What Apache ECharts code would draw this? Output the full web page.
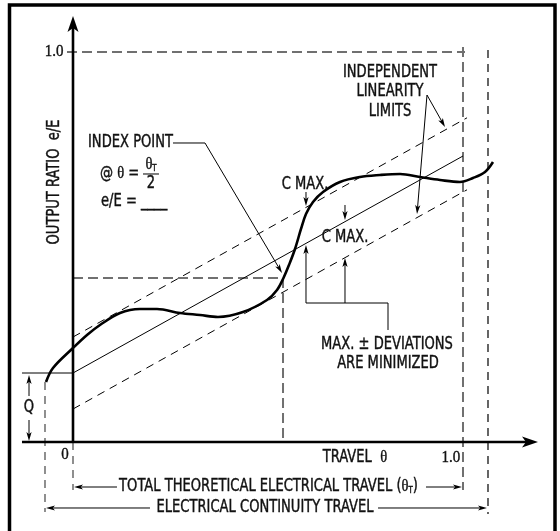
<!DOCTYPE html>
<html><head><meta charset="utf-8">
<script src="https://cdn.jsdelivr.net/npm/echarts@6/dist/echarts.min.js"></script>
<style>html,body{margin:0;padding:0;background:#fff}#c{width:560px;height:531px}</style>
</head><body><div id="c"></div>
<script>
// ---- data (θ = travel, v = output ratio e/E) ----
const curveTheta = [-0.0692,-0.0513,0,0.0359,0.0692,0.1205,0.1718,0.2154,0.2744,0.3256,0.3718,0.4359,0.4974,0.5231,0.5397,0.5538,0.5692,0.5846,0.5974,0.6154,0.6410,0.6846,0.7359,0.7872,0.8385,0.8897,0.9410,0.9923,1.0256,1.0564,1.0769];
const curveRatio = [0.1538,0.1897,0.2410,0.2744,0.3000,0.3308,0.3410,0.3410,0.3308,0.3256,0.3205,0.3333,0.3641,0.3897,0.4205,0.4538,0.4949,0.5462,0.5846,0.6154,0.6410,0.6667,0.6795,0.6846,0.6872,0.6795,0.6718,0.6667,0.6769,0.6923,0.7179];
const idealLine  = [[0,0.1769],[1.0,0.7333]];
const upperLimit = [[0,0.2692],[1.0103,0.8313]];
const lowerLimit = [[0,0.0846],[1.0103,0.6467]];
const qLevel     = [[-0.1308,0.1769],[0,0.1769]];
const axisLines  = [[-0.1308,0,1.1923,0],[0,0,0,1.0923]];
const fullScaleGuides = [[[-0.0154,1],[1.0051,1]],[[1.0,1.0128],[1.0,-0.1231]],[[0,0.4205],[0.5385,0.4205],[0.5385,0]]];
const travelGuides    = [[[0,0],[0,-0.1231]],[[-0.0718,0.1538],[-0.0718,-0.1795]]];
const continuityGuide = [[[1.0641,1.0051],[1.0641,-0.1846]]];
const leaderLines = [[[0.2564,0.7667],[0.3385,0.7667]],[[0.5974,0.3564],[0.8077,0.3564],[0.8077,0.2872]],[[0.1795,0.6872],[0.2205,0.6872]]];
const arrows = [
  [0.3385,0.7667,0.5359,0.4333],
  [0.9077,0.8897,0.9538,0.8077],
  [0.9077,0.8897,0.8821,0.5846],
  [0.5974,0.6410,0.5974,0.6051],
  [0.6974,0.6077,0.6974,0.5692],
  [0.5974,0.3564,0.5974,0.5051],
  [0.6974,0.3564,0.6974,0.4718],
  [0.1128,-0.1154,0.0026,-0.1154],
  [0.9051,-0.1154,0.9974,-0.1154],
  [0.1974,-0.1692,-0.0692,-0.1692],
  [0.7821,-0.1692,1.0615,-0.1692],
  [-0.1128,0.1179,-0.1128,0.1718],
  [-0.1128,0.0564,-0.1128,0.0026]
];
const centerNotes = [
  [0.8128,0.9462,'INDEPENDENT'],
  [0.8128,0.8974,'LINEARITY'],
  [0.8128,0.8462,'LIMITS'],
  [0.5949,0.6590,'C MAX.'],
  [0.6974,0.5231,'C MAX.'],
  [0.8051,0.2487,'MAX. ± DEVIATIONS'],
  [0.8077,0.2000,'ARE MINIMIZED'],
  [0.7231,-0.0410,'TRAVEL  {th|θ}'],
  [0.5013,-0.1154,'TOTAL THEORETICAL ELECTRICAL TRAVEL ({th|θ}{sub|T})'],
  [0.4923,-0.1692,'ELECTRICAL CONTINUITY TRAVEL'],
  [-0.1128,0.0872,'Q'],
  [0.2000,0.7103,'{th|θ}{sub|T}'],
  [0.2000,0.6615,'2']
];
const leftNotes = [
  [0.0385,0.7667,'INDEX POINT'],
  [0.0692,0.6872,'@ {th|θ} ='],
  [0.0718,0.6154,'e/E = ____']
];
const tickLabels = [[-0.0487,1.0,'1.0'],[0.9692,-0.0410,'1.0'],[-0.0205,-0.0333,'0']];
const axisTitle = [[-0.0462,0.6667,'OUTPUT RATIO  e/E']];

// ---- chart ----
const SANS = "'Liberation Sans Narrow','DejaVu Sans Condensed','Roboto Condensed',sans-serif";
const SERIF = "'Liberation Serif','DejaVu Serif',serif";
const rich = {th:{fontFamily:SERIF,fontSize:15,fill:'#111'},sub:{fontFamily:SANS,fontSize:8,fill:'#111',padding:[7,0,0,0]}};
function linesSeries(list, style){
  return {type:'lines',coordinateSystem:'cartesian2d',polyline:true,silent:true,clip:false,
    data:list.map(c=>({coords:c})),lineStyle:Object.assign({opacity:1},style)};
}
function arrowSeries(list, lw, len, hw){
  return {type:'custom',clip:false,silent:true,z:5,data:list,
    renderItem:function(p,api){
      const a=api.coord([api.value(0),api.value(1)]);
      const b=api.coord([api.value(2),api.value(3)]);
      const dx=b[0]-a[0],dy=b[1]-a[1],L=Math.sqrt(dx*dx+dy*dy),ux=dx/L,uy=dy/L;
      const bx=b[0]-ux*len,by=b[1]-uy*len;
      return {type:'group',children:[
        {type:'line',shape:{x1:a[0],y1:a[1],x2:b[0]-ux*len*0.6,y2:b[1]-uy*len*0.6},style:{stroke:'#000',lineWidth:lw}},
        {type:'polygon',shape:{points:[[b[0],b[1]],[bx-uy*hw,by+ux*hw],[b[0]-ux*len*0.75,b[1]-uy*len*0.75],[bx+uy*hw,by-ux*hw]]},style:{fill:'#000'}}
      ]};
    }};
}
const chart = echarts.init(document.getElementById('c'));
chart.setOption({
  animation:false,
  backgroundColor:'#fff',
  grid:{left:0,right:0,top:0,bottom:0},
  xAxis:{type:'value',min:-0.18718,max:1.24872,show:false},
  yAxis:{type:'value',min:-0.22821,max:1.13333,show:false},
  series:[
    linesSeries(fullScaleGuides,{color:'#707070',width:2,type:[10,5]}),
    linesSeries(travelGuides,{color:'#606060',width:1.4,type:[8,6]}),
    linesSeries(continuityGuide,{color:'#000',width:1.2,type:[8,6]}),
    linesSeries([upperLimit,lowerLimit],{color:'#000',width:1,type:[8,6]}),
    linesSeries([idealLine,qLevel],{color:'#000',width:1}),
    linesSeries(leaderLines,{color:'#000',width:1}),
    {type:'line',data:curveTheta.map((t,i)=>[t,curveRatio[i]]),smooth:0.35,showSymbol:false,clip:false,silent:true,z:6,
      lineStyle:{color:'#000',width:2.6}},
    arrowSeries(axisLines,2.6,16,5.5),
    arrowSeries(arrows,1,9,2.6)
  ]
});
// texts placed through the grid's own scale
function txt(d, align, family, rot, sx, sy){
  const p = chart.convertToPixel({gridIndex:0},[d[0],d[1]]);
  return {type:'text',x:p[0],y:p[1],rotation:rot||0,scaleX:sx,scaleY:sy,silent:true,z:50,
    style:{text:d[2],fill:'#111',stroke:'#111',lineWidth:0.35,fontFamily:family,fontSize:15,align:align,verticalAlign:'middle',rich:rich}};
}
const g = [{type:'rect',shape:{x:9.5,y:5,width:545.5,height:545},style:{fill:null,stroke:'#000',lineWidth:3.5},z:100}];
centerNotes.forEach(d=>g.push(txt(d,'center',SANS,0,0.97,1.13)));
leftNotes.forEach(d=>g.push(txt(d,'left',SANS,0,0.97,1.13)));
tickLabels.forEach(d=>g.push(txt(d,'center',SERIF,0,1,1.05)));
axisTitle.forEach(d=>g.push(txt(d,'center',SANS,Math.PI/2,0.97,1.13)));
chart.setOption({graphic:g});
</script></body></html>
